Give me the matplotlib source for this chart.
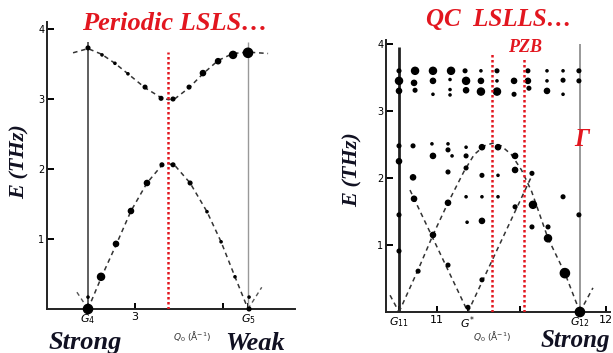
import matplotlib
matplotlib.use("Agg")
import matplotlib.pyplot as plt

# --- periodic chain (left) ---
g4, g5 = 2.733, 3.642
zb_left = 3.19

# upper optic-like band, dashed guide
up_q = [2.648, 2.733, 2.81, 2.886, 2.96, 3.057, 3.148, 3.19, 3.23, 3.307, 3.386, 3.472, 3.557, 3.642, 3.756]
up_e = [3.66, 3.72, 3.64, 3.51, 3.36, 3.16, 3.02, 2.99, 3.01, 3.16, 3.36, 3.55, 3.65, 3.67, 3.65]
# lower acoustic band, dashed guide
lo_q = [2.733, 2.81, 2.895, 2.977, 3.068, 3.148, 3.19, 3.23, 3.313, 3.409, 3.489, 3.568, 3.642]
lo_e = [0.0, 0.46, 0.93, 1.40, 1.80, 2.04, 2.08, 2.04, 1.80, 1.39, 0.96, 0.46, 0.0]
# short branches at the zone centres
br_left = [([2.67, 2.733], [0.24, 0.0]), ([3.642, 3.72], [0.0, 0.31])]

# measured peaks: q, E, intensity class (1 weak .. 5 strong)
pk_q_left = [2.733, 2.8125, 2.886, 2.96, 3.057, 3.148, 3.216, 3.307, 3.386, 3.472, 3.557, 3.642,
             2.733, 2.733, 2.807, 2.892, 2.977, 3.068, 3.153, 3.216, 3.313, 3.409, 3.489, 3.568, 3.648, 3.648]
pk_e_left = [3.73, 3.63, 3.51, 3.36, 3.17, 3.01, 3.00, 3.17, 3.37, 3.54, 3.63, 3.66,
             0.0, 0.17, 0.46, 0.93, 1.40, 1.80, 2.06, 2.06, 1.80, 1.39, 0.96, 0.46, 0.17, 0.0]
pk_w_left = [2, 1, 1, 1, 2, 2, 2, 2, 3, 3, 4, 5,
             5, 1, 4, 3, 3, 3, 2, 2, 2, 1, 1, 1, 1, 2]

# --- quasicrystal chain (right) ---
g11, gstar, g12 = 10.775, 11.183, 11.846
zb_right = [11.325, 11.515]

arc_q = [10.775, 10.888, 10.976, 11.065, 11.16, 11.22, 11.28, 11.33, 11.38, 11.44, 11.50, 11.56, 11.657, 11.757, 11.846]
arc_e = [0.0, 0.63, 1.15, 1.63, 2.10, 2.35, 2.48, 2.52, 2.48, 2.35, 2.12, 1.80, 1.10, 0.58, 0.0]
br_right = [([10.84, 11.183], [1.82, 0.0]),
            ([11.183, 11.568], [0.0, 2.07]),
            ([10.722, 10.775], [0.25, 0.0]),
            ([11.846, 11.923], [0.0, 0.36])]

pk_q_right = [10.775, 10.870, 10.976, 11.083, 11.166, 11.260, 11.355, 11.538, 11.651, 11.746, 11.840,
              10.775, 10.864, 10.976, 11.077, 11.172, 11.260, 11.355, 11.456, 11.538, 11.651, 11.746, 11.840,
              10.775, 10.870, 10.976, 11.077, 11.077, 11.172, 11.260, 11.355, 11.456, 11.544, 11.651, 11.746,
              10.775, 10.858, 10.970, 11.065, 11.172, 11.266, 11.361,
              10.775, 10.976, 11.065, 11.089, 11.172, 11.462,
              10.858, 11.065, 11.172, 11.266, 11.361, 11.462, 11.562,
              10.775, 10.864, 11.065, 11.172, 11.266, 11.361, 11.462, 11.568, 11.746, 11.840,
              11.178, 11.266,
              10.775, 10.976, 10.888, 11.065, 11.266, 11.562, 11.657, 11.657, 11.757, 11.846, 11.183]
pk_e_right = [3.60, 3.60, 3.60, 3.60, 3.60, 3.60, 3.60, 3.60, 3.60, 3.60, 3.60,
              3.45, 3.42, 3.45, 3.47, 3.45, 3.45, 3.45, 3.45, 3.45, 3.45, 3.46, 3.45,
              3.30, 3.31, 3.25, 3.32, 3.24, 3.31, 3.29, 3.29, 3.25, 3.34, 3.30, 3.25,
              2.48, 2.48, 2.51, 2.51, 2.46, 2.46, 2.46,
              2.25, 2.33, 2.42, 2.33, 2.33, 2.33,
              2.01, 2.09, 2.15, 2.04, 2.04, 2.12, 2.07,
              1.45, 1.69, 1.63, 1.72, 1.72, 1.72, 1.57, 1.60, 1.72, 1.45,
              1.34, 1.36,
              0.91, 1.15, 0.61, 0.70, 0.48, 1.27, 1.27, 1.10, 0.58, 0.0, 0.07]
pk_w_right = [2, 4, 4, 4, 2, 1, 2, 2, 1, 1, 2,
              4, 3, 3, 1, 4, 3, 1, 3, 3, 1, 2, 2,
              3, 2, 1, 1, 1, 3, 4, 4, 2, 2, 3, 1,
              2, 2, 1, 1, 1, 3, 3,
              3, 3, 2, 1, 2, 3,
              3, 2, 2, 2, 1, 3, 2,
              2, 3, 3, 1, 1, 1, 2, 4, 2, 2,
              1, 3,
              2, 3, 2, 2, 2, 2, 2, 4, 5, 5, 2]

RED = "#e2161f"
INK = "#111122"
sizes = {1: 2.5, 2: 7, 3: 14, 4: 26, 5: 44}
serif = dict(family="Liberation Serif", weight="bold", style="italic")

fig = plt.figure(figsize=(6.13, 3.53), dpi=100)
W, H = 613.0, 353.0


def style_axes(ax):
    for s in ["top", "right"]:
        ax.spines[s].set_visible(False)
    for s in ["left", "bottom"]:
        ax.spines[s].set_linewidth(1.4)
        ax.spines[s].set_color("#222222")
    ax.set_yticks([1, 2, 3, 4])
    ax.set_yticklabels(["1", "2", "3", "4"])
    ax.tick_params(axis="y", direction="in", length=5, width=1.4, labelsize=7, pad=2)
    ax.tick_params(axis="x", direction="in", length=4, width=1.4, labelsize=8, pad=2)


# left panel
ax1 = fig.add_axes([47 / W, 1 - 309 / H, 248 / W, 287 / H])
ax1.set_xlim(2.5, 3.909)
ax1.set_ylim(0, 4.1)
style_axes(ax1)
ax1.set_xticks([g4, 3, 3.5, g5])
ax1.set_xticklabels(["$G_4$", "3", "", "$G_5$"])
ax1.vlines(g4, 0, 3.81, color="#444444", lw=1.2)
ax1.vlines(g5, 0, 3.81, color="#999999", lw=1.0)
ax1.plot(up_q, up_e, ls=(0, (3, 2.5)), color="#333333", lw=1.1)
ax1.plot(lo_q, lo_e, ls=(0, (3, 2.5)), color="#333333", lw=1.1)
for bq, be in br_left:
    ax1.plot(bq, be, ls=(0, (3, 2.5)), color="#555555", lw=1.0)
ax1.scatter(pk_q_left, pk_e_left, s=[sizes[w] for w in pk_w_left], color="black", zorder=3, clip_on=False)
ax1.vlines(zb_left, 0, 3.67, color=RED, lw=1.8, linestyles=(0, (1, 1)), zorder=4)

# right panel
ax2 = fig.add_axes([386 / W, 1 - 312 / H, 224 / W, 272 / H])
ax2.set_xlim(10.698, 12.024)
ax2.set_ylim(0, 4.06)
style_axes(ax2)
ax2.set_xticks([g11, 11, gstar, 11.49, g12, 12])
ax2.set_xticklabels(["$G_{11}$", "11", "$G^{*}$", "", "$G_{12}$", "12"])
ax2.vlines(g11, 0, 3.96, color="#222222", lw=2.0)
ax2.vlines(g12, 0, 4.0, color="#888888", lw=1.2)
ax2.plot(arc_q, arc_e, ls=(0, (3, 2.5)), color="#333333", lw=1.1)
for bq, be in br_right:
    ax2.plot(bq, be, ls=(0, (3, 2.5)), color="#333333", lw=1.1)
ax2.scatter(pk_q_right, pk_e_right, s=[sizes[w] for w in pk_w_right], color="black", zorder=3, clip_on=False)
ax2.vlines(zb_right[0], 0, 3.87, color=RED, lw=1.8, linestyles=(0, (1, 1)), zorder=4)
ax2.vlines(zb_right[1], 0, 3.81, color=RED, lw=1.8, linestyles=(0, (1, 1)), zorder=4)

# titles and labels
fig.text(175 / W, 1 - 24 / H, "Periodic LSLS\u2026", color=RED, fontsize=19, ha="center", va="center", **serif)
fig.text(499 / W, 1 - 20 / H, "QC  LSLLS\u2026", color=RED, fontsize=18, ha="center", va="center", **serif)
fig.text(525 / W, 1 - 47 / H, "PZB", color=RED, fontsize=13, ha="center", va="center", **serif)
fig.text(582 / W, 1 - 140 / H, "\u0393", color=RED, fontsize=18, ha="center", va="center", **serif)
fig.text(20 / W, 1 - 162 / H, "E (THz)", color=INK, fontsize=16, rotation=90, ha="center", va="center", **serif)
fig.text(353 / W, 1 - 170 / H, "E (THz)", color=INK, fontsize=16, rotation=90, ha="center", va="center", **serif)
fig.text(85 / W, 1 - 343 / H, "Strong", color=INK, fontsize=19, ha="center", va="center", **serif)
fig.text(255 / W, 1 - 343 / H, "Weak", color=INK, fontsize=19, ha="center", va="center", **serif)
fig.text(575 / W, 1 - 340 / H, "Strong", color=INK, fontsize=18, ha="center", va="center", **serif)
fig.text(192 / W, 1 - 337 / H, "$Q_0$ (Å$^{-1}$)", color="#333333", fontsize=6.5, ha="center", va="center")
fig.text(492 / W, 1 - 337 / H, "$Q_0$ (Å$^{-1}$)", color="#333333", fontsize=6.5, ha="center", va="center")

fig.savefig("out.png", dpi=100, facecolor="white")
